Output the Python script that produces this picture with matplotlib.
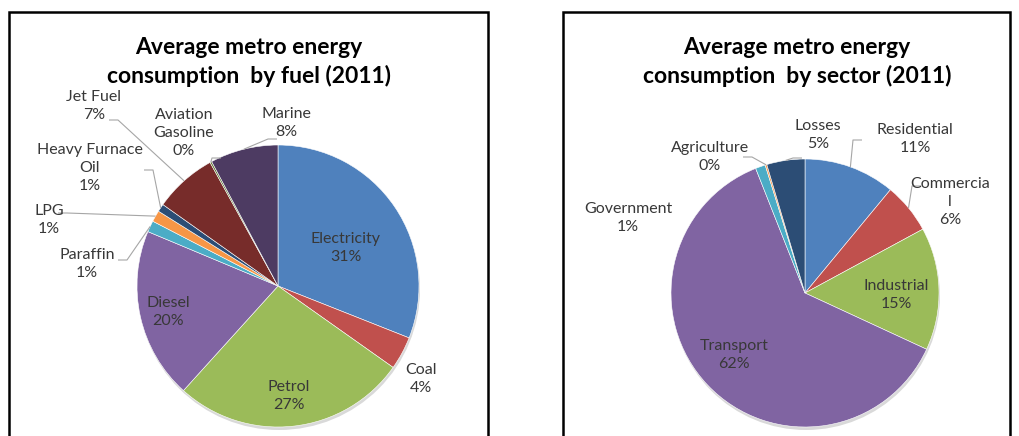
import numpy as np
import matplotlib
matplotlib.use("Agg")
from matplotlib import pyplot as plt
from matplotlib.patches import Rectangle, Circle

plt.rcParams['font.family'] = ['Lato', 'DejaVu Sans']

# fuel split (%), clockwise from 12 o'clock
fuel_names = ["Electricity", "Coal", "Petrol", "Diesel", "Paraffin", "LPG",
              "Heavy Furnace\nOil", "Jet Fuel", "Aviation\nGasoline", "Marine"]
fuel_values = [31.0, 3.8, 26.9, 19.6, 1.3, 1.3, 0.9, 7.2, 0.2, 7.8]

# sector split (%), clockwise from 12 o'clock
sector_names = ["Residential", "Commercia\nl", "Industrial", "Transport",
                "Government", "Agriculture", "Losses"]
sector_values = [11.0, 6.1, 14.8, 62.1, 1.2, 0.2, 4.6]

fuel_colors = ["#4F81BD", "#C0504D", "#9BBB59", "#8064A2", "#4BACC6", "#F79646",
               "#2C4D75", "#772C2A", "#5F7530", "#4D3B62"]
sector_colors = ["#4F81BD", "#C0504D", "#9BBB59", "#8064A2", "#4BACC6", "#F79646",
                 "#2C4D75"]

W, H = 1020, 436


def py(y):
    # page y (top-down) -> axes y (bottom-up)
    return H - y


# label layout per slice: text centre, elbow of the leader line (None = inside / no line)
fuel_layout = [((346, 248), None), ((421, 379), None), ((289, 396), None),
               ((168, 312), None), ((87, 264), (127, 260)), ((49, 220), (67, 213)),
               ((90, 168), (153, 170)), ((94, 106), (118, 120)),
               ((184, 133), (212, 158)), ((286, 123), (268, 139))]
sector_layout = [((915, 139), (853, 140)), ((950, 202), (912, 186)),
                 ((896, 295), None), ((734, 355), None), ((628, 218), None),
                 ((710, 157), (752, 157)), ((818, 135), (793, 158))]


def draw_pie(ax, values, names, colors, layout, cx, cy, r):
    # soft drop shadow under the pie
    ax.add_patch(Circle((cx + 1, py(cy) - 3), r, facecolor="#d9d9d9", edgecolor="none", zorder=0))
    wedges, _ = ax.pie(values, colors=colors, startangle=90, counterclock=False,
                       center=(cx, py(cy)), radius=r,
                       wedgeprops=dict(linewidth=0.4, edgecolor="white"))
    total = float(sum(values))
    for w, name, v, (pos, elbow) in zip(wedges, names, values, layout):
        pct = "{:.0f}%".format(100.0 * v / total)
        ax.text(pos[0], py(pos[1]), name + "\n" + pct, ha="center", va="center",
                fontsize=11.5, color="#383838", linespacing=1.35)
        if elbow is not None:
            mid = np.deg2rad((w.theta1 + w.theta2) / 2.0)
            ex = cx + r * np.cos(mid)
            ey = py(cy) + r * np.sin(mid)
            sx = elbow[0] - 9 if elbow[0] < ex else elbow[0] + 9
            ax.plot([sx, elbow[0], ex], [py(elbow[1]), py(elbow[1]), ey],
                    color="#a6a6a6", linewidth=0.8, solid_capstyle="butt")


fig = plt.figure(figsize=(W / 100.0, H / 100.0), dpi=100)
ax = fig.add_axes([0, 0, 1, 1])

draw_pie(ax, fuel_values, fuel_names, fuel_colors, fuel_layout, 278, 286, 141)
draw_pie(ax, sector_values, sector_names, sector_colors, sector_layout, 805, 293, 134)

ax.set_xlim(0, W)
ax.set_ylim(0, H)
ax.set_aspect("auto")
ax.axis("off")

# chart frames
ax.add_patch(Rectangle((9, -10), 479, py(12) + 10, fill=False, edgecolor="black", linewidth=1.8))
ax.add_patch(Rectangle((563, -10), 447, py(12) + 10, fill=False, edgecolor="black", linewidth=1.8))

ax.text(249, py(62), "Average metro energy\nconsumption  by fuel (2011)", ha="center",
        va="center", fontsize=16.5, fontweight="bold", color="black", linespacing=1.35)
ax.text(797, py(62), "Average metro energy\nconsumption  by sector (2011)", ha="center",
        va="center", fontsize=16.5, fontweight="bold", color="black", linespacing=1.35)

fig.savefig("out.png", dpi=100)
